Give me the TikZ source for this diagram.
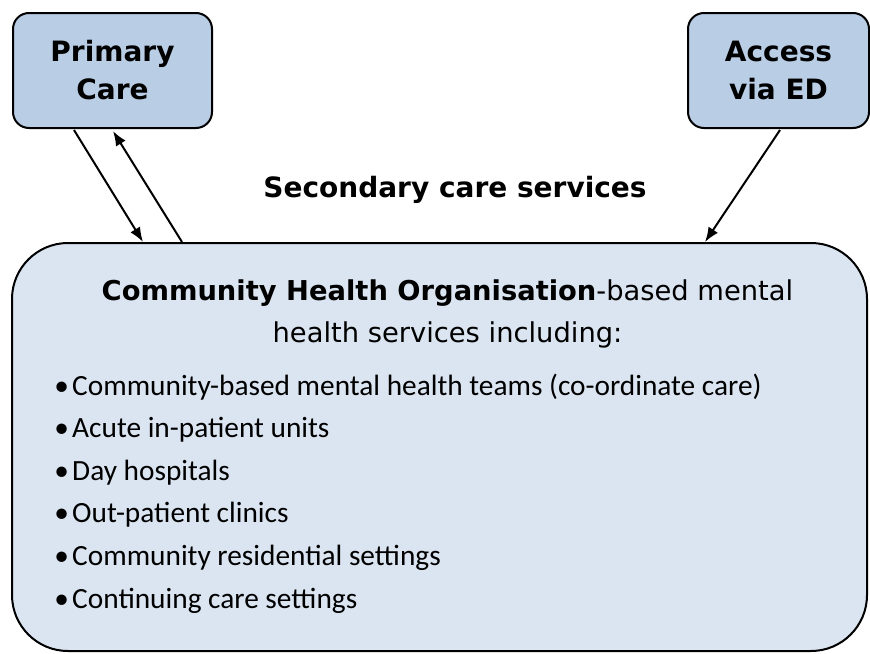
\documentclass[tikz,border=0pt]{standalone}
\usepackage{fontspec}
\setmainfont{Carlito}
\newfontfamily\headfont{DejaVu Sans}
\usetikzlibrary{positioning,arrows.meta,calc}
\definecolor{boxblue}{HTML}{B9CDE5}
\definecolor{paleblue}{HTML}{DBE5F1}
\tikzset{
  entry/.style={draw, line width=1.5pt, rounded corners=12pt, fill=boxblue, align=center,
    minimum height=86.25pt, font=\headfont\bfseries\fontsize{21}{28.5}\selectfont},
  orgbox/.style={draw, line width=1.5pt, rounded corners=42pt, fill=paleblue,
    minimum width=641.25pt, minimum height=306pt},
  heading/.style={anchor=base, inner sep=0pt, font=\headfont\fontsize{20.5}{24}\selectfont},
  item/.style={anchor=base west, inner sep=0pt, font=\fontsize{22}{26}\selectfont},
  arrow/.style={-{Latex[length=11pt,width=8.5pt]}, line width=1.5pt}
}
\begin{document}
\begin{tikzpicture}[x=0.75pt, y=-0.75pt]
  \useasboundingbox (0,0) rectangle (870,653);
  \node[entry, minimum width=149.25pt] (pc) at (112.5,70.5) {Primary\\Care};
  \node[entry, minimum width=135.75pt] (ed) at (778.5,70.5) {Access\\via ED};
  \node[heading, font=\headfont\bfseries\fontsize{21}{24}\selectfont] (sec) at (455,197) {Secondary care services};
  \node[orgbox] (cho) at (439.5,447) {};
  \node[heading] (title1) at (447.5,300) {\textbf{Community Health Organisation}-based mental};
  \node[heading] (title2) at (447.5,342) {health services including:};
  \foreach \txt [count=\i] in {Community-based mental health teams (co-ordinate care),
      Acute in-patient units, Day hospitals, Out-patient clinics,
      Community residential settings, Continuing care settings}
    \node[item] (s\i) at (54,{395+42.6*(\i-1)}) {\makebox[13.5pt][l]{\textbullet}\txt};

  \draw[arrow] ($(pc.south)+(-38.5,1)$) -- ($(cho.north)+(-296.5,0)$);
  \draw[arrow] ($(cho.north)+(-257.5,0)$) -- ($(pc.south)+(0.5,2)$);
  \draw[arrow] ($(ed.south)+(1.5,1)$) -- ($(cho.north)+(265.5,0)$);
\end{tikzpicture}
\end{document}
